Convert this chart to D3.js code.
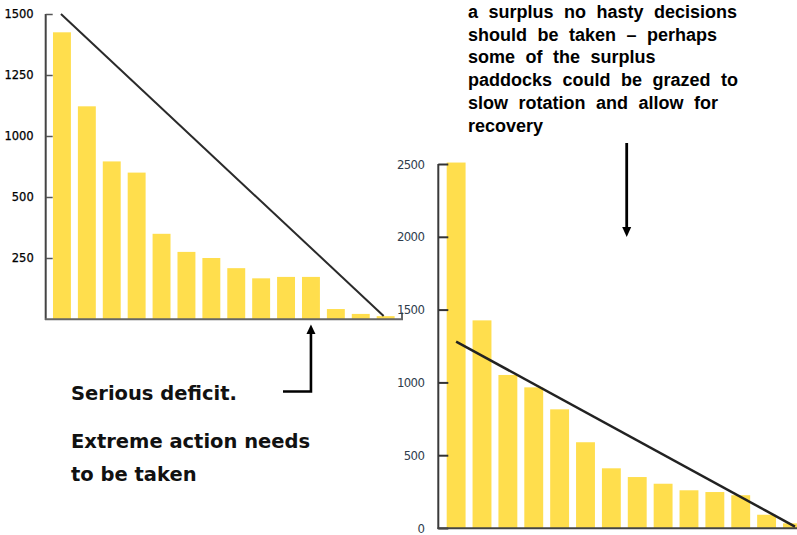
<!DOCTYPE html>
<html>
<head>
<meta charset="utf-8">
<script src="https://cdn.jsdelivr.net/npm/d3@7"></script>
<style>
  html, body { margin: 0; padding: 0; background: #fff; }
  svg { display: block; }
</style>
</head>
<body>
<svg id="chart" width="797" height="535"></svg>
<script>
// ---------------- DATA ----------------
const categories = ["P1","P2","P3","P4","P5","P6","P7","P8","P9","P10","P11","P12","P13","P14"];

// Left chart (deficit)
const leftValues = [1410, 1046, 775, 720, 419, 330, 300, 250, 200, 207, 207, 49, 25, 14];
const leftTickValues = [1500, 1200, 900, 600, 300];
const leftTickLabels = ["1500", "1250", "1000", "500", "250"];
const leftTrend = [1500, 15]; // first and last paddock

// Right chart (surplus)
const rightValues = [2510, 1426, 1051, 966, 815, 589, 410, 350, 304, 259, 247, 225, 91, 32];
const rightTickValues = [0, 500, 1000, 1500, 2000, 2500];
const rightTickLabels = ["0", "500", "1000", "1500", "2000", "2500"];
const rightTrend = [1280, 10];

// Annotation texts
const surplusText = [
  "a surplus no hasty decisions",
  "should be taken \u2013 perhaps",
  "some of the surplus",
  "paddocks could be grazed to",
  "slow rotation and allow for",
  "recovery"
];
const deficitTitle = "Serious deficit.";
const deficitText = ["Extreme action needs", "to be taken"];

// ---------------- DRAWING ----------------
const svg = d3.select("#chart");
const barColor = "#FFDE4D";

// ----- Left chart -----
const xL = d3.scaleBand().domain(categories).range([49.5, 398.1]).paddingInner(0.28).paddingOuter(0.14);
const yL = d3.scaleLinear().domain([0, 1500]).range([319, 14]);
const gL = svg.append("g");

gL.selectAll("rect").data(leftValues).join("rect")
  .attr("x", (d, i) => xL(categories[i]))
  .attr("y", d => yL(d))
  .attr("width", xL.bandwidth())
  .attr("height", d => yL(0) - yL(d))
  .attr("fill", barColor);

const axL = d3.axisLeft(yL).tickValues(leftTickValues)
  .tickFormat((d, i) => leftTickLabels[i]).tickSizeInner(-7).tickSizeOuter(0).tickPadding(12);
const gAxL = gL.append("g").attr("transform", "translate(45.7,0)").call(axL);
gAxL.select(".domain").attr("stroke", "#444").attr("stroke-width", 2)
  .attr("d", `M0,${yL(1500)}V${yL(0) + 1}`);
gAxL.selectAll(".tick line").attr("stroke", "#555").attr("stroke-width", 1.5);
gAxL.selectAll(".tick text").attr("font-family", "DejaVu Sans, Verdana, sans-serif")
  .attr("font-size", 11.5).attr("fill", "#000").attr("stroke", "#000").attr("stroke-width", 0.25);

// baseline
gL.append("path")
  .attr("d", `M45,${yL(0) + 0.3}H402V${yL(0) - 6.5}`)
  .attr("fill", "none").attr("stroke", "#666").attr("stroke-width", 2);

// trend
gL.append("line")
  .attr("x1", xL(categories[0]) + xL.bandwidth() / 2 - 1)
  .attr("y1", yL(leftTrend[0]))
  .attr("x2", xL(categories[categories.length - 1]) + xL.bandwidth() / 2 - 2)
  .attr("y2", yL(leftTrend[1]))
  .attr("stroke", "#2a2a2a").attr("stroke-width", 2);

// ----- Right chart -----
const xR = d3.scaleBand().domain(categories).range([443.2, 805.4]).paddingInner(0.27).paddingOuter(0.135);
const yR = d3.scaleLinear().domain([0, 2500]).range([528, 164]);
const gR = svg.append("g");

gR.selectAll("rect").data(rightValues).join("rect")
  .attr("x", (d, i) => xR(categories[i]))
  .attr("y", d => yR(d))
  .attr("width", xR.bandwidth())
  .attr("height", d => yR(0) - yR(d))
  .attr("fill", barColor);

const axR = d3.axisLeft(yR).tickValues(rightTickValues)
  .tickFormat((d, i) => rightTickLabels[i]).tickSizeInner(-10).tickSizeOuter(0).tickPadding(14);
const gAxR = gR.append("g").attr("transform", "translate(438.3,0)").call(axR);
gAxR.select(".domain").attr("stroke", "#3a3a3a").attr("stroke-width", 2)
  .attr("d", `M0,${yR(2500)}V${yR(0) + 1}`);
gAxR.selectAll(".tick line").attr("stroke", "#333").attr("stroke-width", 2);
gAxR.selectAll(".tick text")
  .attr("font-family", "Liberation Sans Narrow, Arial Narrow, DejaVu Sans Condensed, sans-serif")
  .attr("font-size", 13).attr("letter-spacing", -0.6).attr("fill", "#2f3d4c");

gR.append("line")
  .attr("x1", 437.5).attr("x2", 797).attr("y1", yR(0) + 0.3).attr("y2", yR(0) + 0.3)
  .attr("stroke", "#444").attr("stroke-width", 2);

gR.append("line")
  .attr("x1", xR(categories[0]) + xR.bandwidth() / 2)
  .attr("y1", yR(rightTrend[0]))
  .attr("x2", xR(categories[categories.length - 1]) + xR.bandwidth() / 2 + 2.5)
  .attr("y2", yR(rightTrend[1]))
  .attr("stroke", "#222").attr("stroke-width", 2.5);

// ----- Annotations -----
// Top-right text
const tR = svg.append("text")
  .attr("font-family", "Liberation Sans, Arial, sans-serif")
  .attr("font-weight", "bold").attr("font-size", 18)
  .attr("word-spacing", 5.5).attr("fill", "#000");
surplusText.forEach((s, i) => {
  tR.append("tspan").attr("x", 468).attr("y", 18 + i * 22.7).text(s);
});

// Right arrow (down)
const ax = 626.7;
svg.append("line").attr("x1", ax).attr("x2", ax).attr("y1", 143).attr("y2", 229)
  .attr("stroke", "#000").attr("stroke-width", 2.8);
svg.append("path").attr("d", `M${ax - 4.5},${227}L${ax + 4.5},${227}L${ax},${237}Z`).attr("fill", "#000");

// Left arrow (up, elbow) pointing at paddock 11
const lx = xL(categories[10]) + xL.bandwidth() / 2;
svg.append("path").attr("d", `M283,391.5H${lx}V332`)
  .attr("fill", "none").attr("stroke", "#000").attr("stroke-width", 2.6);
svg.append("path").attr("d", `M${lx - 4.5},${334}L${lx + 4.5},${334}L${lx},${324.5}Z`).attr("fill", "#000");

// Bottom-left text
const tL = svg.append("g")
  .attr("font-family", "DejaVu Sans, Verdana, sans-serif")
  .attr("font-weight", "bold").attr("font-size", 19.5).attr("fill", "#111");
tL.append("text").attr("x", 71).attr("y", 399.5).text(deficitTitle);
deficitText.forEach((s, i) => {
  tL.append("text").attr("x", 71).attr("y", 448 + i * 32.5).text(s);
});
</script>
</body>
</html>
